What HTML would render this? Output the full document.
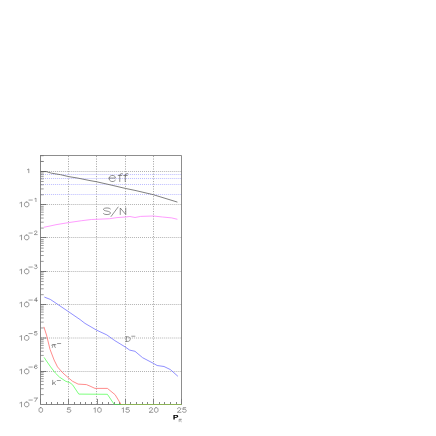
<!DOCTYPE html><html><head><meta charset="utf-8"><style>html,body{margin:0;padding:0;background:#fff;}body{width:436px;height:436px;position:relative;overflow:hidden;font-family:"Liberation Sans",sans-serif;}svg text{font-family:"Liberation Sans",sans-serif;}</style></head><body>
<svg width="436" height="436" viewBox="0 0 436 436" style="position:absolute;left:0;top:0">
<line x1="41.0" y1="171.50" x2="181.5" y2="171.50" stroke="#b2b2b2" stroke-width="1" stroke-dasharray="1 1.02"/>
<line x1="41.0" y1="204.50" x2="181.5" y2="204.50" stroke="#b2b2b2" stroke-width="1" stroke-dasharray="1 1.02"/>
<line x1="41.0" y1="237.50" x2="181.5" y2="237.50" stroke="#b2b2b2" stroke-width="1" stroke-dasharray="1 1.02"/>
<line x1="41.0" y1="271.50" x2="181.5" y2="271.50" stroke="#b2b2b2" stroke-width="1" stroke-dasharray="1 1.02"/>
<line x1="41.0" y1="304.50" x2="181.5" y2="304.50" stroke="#b2b2b2" stroke-width="1" stroke-dasharray="1 1.02"/>
<line x1="41.0" y1="338.00" x2="181.5" y2="338.00" stroke="#b2b2b2" stroke-width="1" stroke-dasharray="1 1.02"/>
<line x1="41.0" y1="371.50" x2="181.5" y2="371.50" stroke="#b2b2b2" stroke-width="1" stroke-dasharray="1 1.02"/>
<line x1="68.50" y1="156.0" x2="68.50" y2="404.5" stroke="#a8a8a8" stroke-width="1" stroke-dasharray="1.1 1.4"/>
<line x1="96.50" y1="156.0" x2="96.50" y2="404.5" stroke="#a8a8a8" stroke-width="1" stroke-dasharray="1.1 1.4"/>
<line x1="125.50" y1="156.0" x2="125.50" y2="404.5" stroke="#a8a8a8" stroke-width="1" stroke-dasharray="1.1 1.4"/>
<line x1="153.50" y1="156.0" x2="153.50" y2="404.5" stroke="#a8a8a8" stroke-width="1" stroke-dasharray="1.1 1.4"/>
<line x1="41.0" y1="174.50" x2="181.5" y2="174.50" stroke="#bcbcff" stroke-width="1" stroke-dasharray="1 1.02"/>
<line x1="41.0" y1="178.50" x2="181.5" y2="178.50" stroke="#bcbcff" stroke-width="1" stroke-dasharray="1 1.02"/>
<line x1="41.0" y1="184.50" x2="181.5" y2="184.50" stroke="#bcbcff" stroke-width="1" stroke-dasharray="1 1.02"/>
<line x1="41.0" y1="194.50" x2="181.5" y2="194.50" stroke="#bcbcff" stroke-width="1" stroke-dasharray="1 1.02"/>
<polyline points="40.5,155.5 181.5,155.5 181.5,404.5" fill="none" stroke="#707070" stroke-width="0.8"/>
<polyline points="40.5,155.1 40.5,404.5 181.5,404.5" fill="none" stroke="#686868" stroke-width="0.8"/>
<line x1="40.5" y1="171.50" x2="46.5" y2="171.50" stroke="#606060" stroke-width="0.8"/>
<line x1="40.5" y1="161.48" x2="43.7" y2="161.48" stroke="#787878" stroke-width="0.75"/>
<line x1="40.5" y1="155.61" x2="43.7" y2="155.61" stroke="#787878" stroke-width="0.75"/>
<line x1="40.5" y1="204.50" x2="46.5" y2="204.50" stroke="#606060" stroke-width="0.8"/>
<line x1="40.5" y1="194.78" x2="43.7" y2="194.78" stroke="#787878" stroke-width="0.75"/>
<line x1="40.5" y1="188.91" x2="43.7" y2="188.91" stroke="#787878" stroke-width="0.75"/>
<line x1="40.5" y1="184.75" x2="43.7" y2="184.75" stroke="#787878" stroke-width="0.75"/>
<line x1="40.5" y1="181.52" x2="43.7" y2="181.52" stroke="#787878" stroke-width="0.75"/>
<line x1="40.5" y1="178.89" x2="43.7" y2="178.89" stroke="#787878" stroke-width="0.75"/>
<line x1="40.5" y1="176.66" x2="43.7" y2="176.66" stroke="#787878" stroke-width="0.75"/>
<line x1="40.5" y1="174.73" x2="43.7" y2="174.73" stroke="#787878" stroke-width="0.75"/>
<line x1="40.5" y1="173.02" x2="43.7" y2="173.02" stroke="#787878" stroke-width="0.75"/>
<line x1="40.5" y1="237.50" x2="46.5" y2="237.50" stroke="#606060" stroke-width="0.8"/>
<line x1="40.5" y1="228.08" x2="43.7" y2="228.08" stroke="#787878" stroke-width="0.75"/>
<line x1="40.5" y1="222.21" x2="43.7" y2="222.21" stroke="#787878" stroke-width="0.75"/>
<line x1="40.5" y1="218.05" x2="43.7" y2="218.05" stroke="#787878" stroke-width="0.75"/>
<line x1="40.5" y1="214.82" x2="43.7" y2="214.82" stroke="#787878" stroke-width="0.75"/>
<line x1="40.5" y1="212.19" x2="43.7" y2="212.19" stroke="#787878" stroke-width="0.75"/>
<line x1="40.5" y1="209.96" x2="43.7" y2="209.96" stroke="#787878" stroke-width="0.75"/>
<line x1="40.5" y1="208.03" x2="43.7" y2="208.03" stroke="#787878" stroke-width="0.75"/>
<line x1="40.5" y1="206.32" x2="43.7" y2="206.32" stroke="#787878" stroke-width="0.75"/>
<line x1="40.5" y1="271.50" x2="46.5" y2="271.50" stroke="#606060" stroke-width="0.8"/>
<line x1="40.5" y1="261.38" x2="43.7" y2="261.38" stroke="#787878" stroke-width="0.75"/>
<line x1="40.5" y1="255.51" x2="43.7" y2="255.51" stroke="#787878" stroke-width="0.75"/>
<line x1="40.5" y1="251.35" x2="43.7" y2="251.35" stroke="#787878" stroke-width="0.75"/>
<line x1="40.5" y1="248.12" x2="43.7" y2="248.12" stroke="#787878" stroke-width="0.75"/>
<line x1="40.5" y1="245.49" x2="43.7" y2="245.49" stroke="#787878" stroke-width="0.75"/>
<line x1="40.5" y1="243.26" x2="43.7" y2="243.26" stroke="#787878" stroke-width="0.75"/>
<line x1="40.5" y1="241.33" x2="43.7" y2="241.33" stroke="#787878" stroke-width="0.75"/>
<line x1="40.5" y1="239.62" x2="43.7" y2="239.62" stroke="#787878" stroke-width="0.75"/>
<line x1="40.5" y1="304.50" x2="46.5" y2="304.50" stroke="#606060" stroke-width="0.8"/>
<line x1="40.5" y1="294.68" x2="43.7" y2="294.68" stroke="#787878" stroke-width="0.75"/>
<line x1="40.5" y1="288.81" x2="43.7" y2="288.81" stroke="#787878" stroke-width="0.75"/>
<line x1="40.5" y1="284.65" x2="43.7" y2="284.65" stroke="#787878" stroke-width="0.75"/>
<line x1="40.5" y1="281.42" x2="43.7" y2="281.42" stroke="#787878" stroke-width="0.75"/>
<line x1="40.5" y1="278.79" x2="43.7" y2="278.79" stroke="#787878" stroke-width="0.75"/>
<line x1="40.5" y1="276.56" x2="43.7" y2="276.56" stroke="#787878" stroke-width="0.75"/>
<line x1="40.5" y1="274.63" x2="43.7" y2="274.63" stroke="#787878" stroke-width="0.75"/>
<line x1="40.5" y1="272.92" x2="43.7" y2="272.92" stroke="#787878" stroke-width="0.75"/>
<line x1="40.5" y1="338.00" x2="46.5" y2="338.00" stroke="#606060" stroke-width="0.8"/>
<line x1="40.5" y1="327.98" x2="43.7" y2="327.98" stroke="#787878" stroke-width="0.75"/>
<line x1="40.5" y1="322.11" x2="43.7" y2="322.11" stroke="#787878" stroke-width="0.75"/>
<line x1="40.5" y1="317.95" x2="43.7" y2="317.95" stroke="#787878" stroke-width="0.75"/>
<line x1="40.5" y1="314.72" x2="43.7" y2="314.72" stroke="#787878" stroke-width="0.75"/>
<line x1="40.5" y1="312.09" x2="43.7" y2="312.09" stroke="#787878" stroke-width="0.75"/>
<line x1="40.5" y1="309.86" x2="43.7" y2="309.86" stroke="#787878" stroke-width="0.75"/>
<line x1="40.5" y1="307.93" x2="43.7" y2="307.93" stroke="#787878" stroke-width="0.75"/>
<line x1="40.5" y1="306.22" x2="43.7" y2="306.22" stroke="#787878" stroke-width="0.75"/>
<line x1="40.5" y1="371.50" x2="46.5" y2="371.50" stroke="#606060" stroke-width="0.8"/>
<line x1="40.5" y1="361.28" x2="43.7" y2="361.28" stroke="#787878" stroke-width="0.75"/>
<line x1="40.5" y1="355.41" x2="43.7" y2="355.41" stroke="#787878" stroke-width="0.75"/>
<line x1="40.5" y1="351.25" x2="43.7" y2="351.25" stroke="#787878" stroke-width="0.75"/>
<line x1="40.5" y1="348.02" x2="43.7" y2="348.02" stroke="#787878" stroke-width="0.75"/>
<line x1="40.5" y1="345.39" x2="43.7" y2="345.39" stroke="#787878" stroke-width="0.75"/>
<line x1="40.5" y1="343.16" x2="43.7" y2="343.16" stroke="#787878" stroke-width="0.75"/>
<line x1="40.5" y1="341.23" x2="43.7" y2="341.23" stroke="#787878" stroke-width="0.75"/>
<line x1="40.5" y1="339.52" x2="43.7" y2="339.52" stroke="#787878" stroke-width="0.75"/>
<line x1="40.5" y1="394.58" x2="43.7" y2="394.58" stroke="#787878" stroke-width="0.75"/>
<line x1="40.5" y1="388.71" x2="43.7" y2="388.71" stroke="#787878" stroke-width="0.75"/>
<line x1="40.5" y1="384.55" x2="43.7" y2="384.55" stroke="#787878" stroke-width="0.75"/>
<line x1="40.5" y1="381.32" x2="43.7" y2="381.32" stroke="#787878" stroke-width="0.75"/>
<line x1="40.5" y1="378.69" x2="43.7" y2="378.69" stroke="#787878" stroke-width="0.75"/>
<line x1="40.5" y1="376.46" x2="43.7" y2="376.46" stroke="#787878" stroke-width="0.75"/>
<line x1="40.5" y1="374.53" x2="43.7" y2="374.53" stroke="#787878" stroke-width="0.75"/>
<line x1="40.5" y1="372.82" x2="43.7" y2="372.82" stroke="#787878" stroke-width="0.75"/>
<line x1="40.5" y1="161.48" x2="43.7" y2="161.48" stroke="#787878" stroke-width="0.75"/>
<line x1="40.5" y1="155.61" x2="43.7" y2="155.61" stroke="#787878" stroke-width="0.75"/>
<line x1="40.50" y1="404.5" x2="40.50" y2="398.9" stroke="#777" stroke-width="0.9"/>
<line x1="46.50" y1="404.5" x2="46.50" y2="402.0" stroke="#777" stroke-width="0.9"/>
<line x1="51.50" y1="404.5" x2="51.50" y2="402.0" stroke="#777" stroke-width="0.9"/>
<line x1="57.50" y1="404.5" x2="57.50" y2="402.0" stroke="#777" stroke-width="0.9"/>
<line x1="63.50" y1="404.5" x2="63.50" y2="402.0" stroke="#777" stroke-width="0.9"/>
<line x1="68.50" y1="404.5" x2="68.50" y2="398.9" stroke="#777" stroke-width="0.9"/>
<line x1="74.50" y1="404.5" x2="74.50" y2="402.0" stroke="#777" stroke-width="0.9"/>
<line x1="80.50" y1="404.5" x2="80.50" y2="402.0" stroke="#777" stroke-width="0.9"/>
<line x1="85.50" y1="404.5" x2="85.50" y2="402.0" stroke="#777" stroke-width="0.9"/>
<line x1="91.50" y1="404.5" x2="91.50" y2="402.0" stroke="#777" stroke-width="0.9"/>
<line x1="97.50" y1="404.5" x2="97.50" y2="398.9" stroke="#777" stroke-width="0.9"/>
<line x1="102.50" y1="404.5" x2="102.50" y2="402.0" stroke="#777" stroke-width="0.9"/>
<line x1="108.50" y1="404.5" x2="108.50" y2="402.0" stroke="#777" stroke-width="0.9"/>
<line x1="114.50" y1="404.5" x2="114.50" y2="402.0" stroke="#777" stroke-width="0.9"/>
<line x1="119.50" y1="404.5" x2="119.50" y2="402.0" stroke="#777" stroke-width="0.9"/>
<line x1="125.50" y1="404.5" x2="125.50" y2="398.9" stroke="#777" stroke-width="0.9"/>
<line x1="130.50" y1="404.5" x2="130.50" y2="402.0" stroke="#777" stroke-width="0.9"/>
<line x1="136.50" y1="404.5" x2="136.50" y2="402.0" stroke="#777" stroke-width="0.9"/>
<line x1="142.50" y1="404.5" x2="142.50" y2="402.0" stroke="#777" stroke-width="0.9"/>
<line x1="147.50" y1="404.5" x2="147.50" y2="402.0" stroke="#777" stroke-width="0.9"/>
<line x1="153.50" y1="404.5" x2="153.50" y2="398.9" stroke="#777" stroke-width="0.9"/>
<line x1="159.50" y1="404.5" x2="159.50" y2="402.0" stroke="#777" stroke-width="0.9"/>
<line x1="164.50" y1="404.5" x2="164.50" y2="402.0" stroke="#777" stroke-width="0.9"/>
<line x1="170.50" y1="404.5" x2="170.50" y2="402.0" stroke="#777" stroke-width="0.9"/>
<line x1="176.50" y1="404.5" x2="176.50" y2="402.0" stroke="#777" stroke-width="0.9"/>
<line x1="181.50" y1="404.5" x2="181.50" y2="398.9" stroke="#777" stroke-width="0.9"/>
<polyline points="40.5,171.6 46.3,171.6 51.5,173.2 60.6,174.7 68.7,176.6 77.8,178.1 90.0,180.6 96.3,181.7 110.0,184.8 125.3,188.4 135.0,190.4 153.3,194.7 177.4,202.1" fill="none" stroke="#606060" stroke-width="0.8" stroke-linejoin="round"/>
<polyline points="43.7,227.3 50.0,226.0 56.0,224.7 68.6,222.6 81.7,220.7 91.4,219.5 101.0,219.1 109.7,218.7 117.0,217.6 125.3,217.0 129.9,216.5 135.0,217.5 140.7,216.4 153.3,216.0 162.5,217.0 171.7,217.9 177.4,219.3" fill="none" stroke="#ff7cff" stroke-width="0.75" stroke-linejoin="round"/>
<polyline points="44.4,297.1 50.3,299.4 57.2,304.0 68.7,311.8 80.1,319.6 85.0,323.4 96.5,330.1 106.8,334.9 114.8,340.6 125.1,346.9 129.7,350.1 135.0,351.3 142.6,357.7 153.3,363.3 157.1,365.5 164.0,366.5 170.4,369.6 177.9,376.3" fill="none" stroke="#7474ff" stroke-width="0.8" stroke-linejoin="round"/>
<polyline points="43.9,326.9 46.5,335.0 50.0,349.3 54.1,360.0 57.5,366.9 63.0,373.1 68.5,377.9 72.6,381.3 78.1,384.1 86.4,384.6 90.0,386.1 95.0,388.4 107.4,388.4 115.1,394.7 121.1,404.5" fill="none" stroke="#ff6e6e" stroke-width="0.8" stroke-linejoin="round"/>
<polyline points="44.1,357.4 45.8,360.0 50.6,366.9 55.4,373.1 59.6,377.2 65.8,381.3 69.9,382.7 72.6,384.8 78.8,394.1 107.4,394.3 114.3,404.5" fill="none" stroke="#5cff5c" stroke-width="0.8" stroke-linejoin="round"/>
<line x1="121.1" y1="404.5" x2="181.5" y2="404.5" stroke="#8cb850" stroke-width="0.9"/>
<line x1="114.3" y1="404.5" x2="121.1" y2="404.5" stroke="#55c555" stroke-width="0.9"/>
<path d="M27.52,169.62 L28.03,169.44 L28.79,168.90 L28.79,172.70" fill="none" stroke="#555" stroke-width="0.6" stroke-linecap="round" stroke-linejoin="round"/>
<path d="M19.93,202.95 L20.57,202.73 L21.53,202.05 L21.53,206.80 M26.35,202.05 L25.39,202.28 L24.75,202.95 L24.42,204.09 L24.42,204.76 L24.75,205.90 L25.39,206.57 L26.35,206.80 L26.99,206.80 L27.96,206.57 L28.60,205.90 L28.92,204.76 L28.92,204.09 L28.60,202.95 L27.96,202.28 L26.99,202.05 L26.35,202.05" fill="none" stroke="#555" stroke-width="0.6" stroke-linecap="round" stroke-linejoin="round"/>
<path d="M28.95,200.06 L32.35,200.06" fill="none" stroke="#555" stroke-width="0.55" stroke-linecap="round" stroke-linejoin="round"/>
<path d="M34.89,198.69 L35.32,198.51 L35.96,198.00 L35.96,201.60" fill="none" stroke="#555" stroke-width="0.55" stroke-linecap="round" stroke-linejoin="round"/>
<path d="M19.93,235.95 L20.57,235.73 L21.53,235.05 L21.53,239.80 M26.35,235.05 L25.39,235.28 L24.75,235.95 L24.42,237.09 L24.42,237.76 L24.75,238.90 L25.39,239.57 L26.35,239.80 L26.99,239.80 L27.96,239.57 L28.60,238.90 L28.92,237.76 L28.92,237.09 L28.60,235.95 L27.96,235.28 L26.99,235.05 L26.35,235.05" fill="none" stroke="#555" stroke-width="0.6" stroke-linecap="round" stroke-linejoin="round"/>
<path d="M28.95,233.06 L32.35,233.06" fill="none" stroke="#555" stroke-width="0.55" stroke-linecap="round" stroke-linejoin="round"/>
<path d="M34.46,231.86 L34.46,231.69 L34.67,231.34 L34.89,231.17 L35.32,231.00 L36.17,231.00 L36.60,231.17 L36.82,231.34 L37.03,231.69 L37.03,232.03 L36.82,232.37 L36.39,232.89 L34.25,234.60 L37.25,234.60" fill="none" stroke="#555" stroke-width="0.55" stroke-linecap="round" stroke-linejoin="round"/>
<path d="M19.93,269.95 L20.57,269.73 L21.53,269.05 L21.53,273.80 M26.35,269.05 L25.39,269.28 L24.75,269.95 L24.42,271.09 L24.42,271.76 L24.75,272.90 L25.39,273.57 L26.35,273.80 L26.99,273.80 L27.96,273.57 L28.60,272.90 L28.92,271.76 L28.92,271.09 L28.60,269.95 L27.96,269.28 L26.99,269.05 L26.35,269.05" fill="none" stroke="#555" stroke-width="0.6" stroke-linecap="round" stroke-linejoin="round"/>
<path d="M28.95,267.06 L32.35,267.06" fill="none" stroke="#555" stroke-width="0.55" stroke-linecap="round" stroke-linejoin="round"/>
<path d="M34.67,265.00 L37.03,265.00 L35.75,266.37 L36.39,266.37 L36.82,266.54 L37.03,266.71 L37.25,267.23 L37.25,267.57 L37.03,268.09 L36.60,268.43 L35.96,268.60 L35.32,268.60 L34.67,268.43 L34.46,268.26 L34.25,267.91" fill="none" stroke="#555" stroke-width="0.55" stroke-linecap="round" stroke-linejoin="round"/>
<path d="M19.93,302.95 L20.57,302.73 L21.53,302.05 L21.53,306.80 M26.35,302.05 L25.39,302.28 L24.75,302.95 L24.42,304.09 L24.42,304.76 L24.75,305.90 L25.39,306.57 L26.35,306.80 L26.99,306.80 L27.96,306.57 L28.60,305.90 L28.92,304.76 L28.92,304.09 L28.60,302.95 L27.96,302.28 L26.99,302.05 L26.35,302.05" fill="none" stroke="#555" stroke-width="0.6" stroke-linecap="round" stroke-linejoin="round"/>
<path d="M28.95,300.06 L32.35,300.06" fill="none" stroke="#555" stroke-width="0.55" stroke-linecap="round" stroke-linejoin="round"/>
<path d="M36.39,298.00 L34.25,300.40 L37.46,300.40 M36.39,298.00 L36.39,301.60" fill="none" stroke="#555" stroke-width="0.55" stroke-linecap="round" stroke-linejoin="round"/>
<path d="M19.93,336.45 L20.57,336.23 L21.53,335.55 L21.53,340.30 M26.35,335.55 L25.39,335.78 L24.75,336.45 L24.42,337.59 L24.42,338.26 L24.75,339.40 L25.39,340.07 L26.35,340.30 L26.99,340.30 L27.96,340.07 L28.60,339.40 L28.92,338.26 L28.92,337.59 L28.60,336.45 L27.96,335.78 L26.99,335.55 L26.35,335.55" fill="none" stroke="#555" stroke-width="0.6" stroke-linecap="round" stroke-linejoin="round"/>
<path d="M28.95,333.56 L32.35,333.56" fill="none" stroke="#555" stroke-width="0.55" stroke-linecap="round" stroke-linejoin="round"/>
<path d="M36.82,331.50 L34.67,331.50 L34.46,333.04 L34.67,332.87 L35.32,332.70 L35.96,332.70 L36.60,332.87 L37.03,333.21 L37.25,333.73 L37.25,334.07 L37.03,334.59 L36.60,334.93 L35.96,335.10 L35.32,335.10 L34.67,334.93 L34.46,334.76 L34.25,334.41" fill="none" stroke="#555" stroke-width="0.55" stroke-linecap="round" stroke-linejoin="round"/>
<path d="M19.93,369.95 L20.57,369.73 L21.53,369.05 L21.53,373.80 M26.35,369.05 L25.39,369.28 L24.75,369.95 L24.42,371.09 L24.42,371.76 L24.75,372.90 L25.39,373.57 L26.35,373.80 L26.99,373.80 L27.96,373.57 L28.60,372.90 L28.92,371.76 L28.92,371.09 L28.60,369.95 L27.96,369.28 L26.99,369.05 L26.35,369.05" fill="none" stroke="#555" stroke-width="0.6" stroke-linecap="round" stroke-linejoin="round"/>
<path d="M28.95,367.06 L32.35,367.06" fill="none" stroke="#555" stroke-width="0.55" stroke-linecap="round" stroke-linejoin="round"/>
<path d="M37.03,365.51 L36.82,365.17 L36.17,365.00 L35.75,365.00 L35.10,365.17 L34.67,365.69 L34.46,366.54 L34.46,367.40 L34.67,368.09 L35.10,368.43 L35.75,368.60 L35.96,368.60 L36.60,368.43 L37.03,368.09 L37.25,367.57 L37.25,367.40 L37.03,366.89 L36.60,366.54 L35.96,366.37 L35.75,366.37 L35.10,366.54 L34.67,366.89 L34.46,367.40" fill="none" stroke="#555" stroke-width="0.55" stroke-linecap="round" stroke-linejoin="round"/>
<path d="M19.93,402.95 L20.57,402.73 L21.53,402.05 L21.53,406.80 M26.35,402.05 L25.39,402.28 L24.75,402.95 L24.42,404.09 L24.42,404.76 L24.75,405.90 L25.39,406.57 L26.35,406.80 L26.99,406.80 L27.96,406.57 L28.60,405.90 L28.92,404.76 L28.92,404.09 L28.60,402.95 L27.96,402.28 L26.99,402.05 L26.35,402.05" fill="none" stroke="#555" stroke-width="0.6" stroke-linecap="round" stroke-linejoin="round"/>
<path d="M28.95,400.06 L32.35,400.06" fill="none" stroke="#555" stroke-width="0.55" stroke-linecap="round" stroke-linejoin="round"/>
<path d="M37.25,398.00 L35.10,401.60 M34.25,398.00 L37.25,398.00" fill="none" stroke="#555" stroke-width="0.55" stroke-linecap="round" stroke-linejoin="round"/>
<path d="M40.54,407.70 L39.75,407.92 L39.22,408.58 L38.96,409.67 L38.96,410.33 L39.22,411.42 L39.75,412.08 L40.54,412.30 L41.06,412.30 L41.85,412.08 L42.38,411.42 L42.64,410.33 L42.64,409.67 L42.38,408.58 L41.85,407.92 L41.06,407.70 L40.54,407.70" fill="none" stroke="#555" stroke-width="0.6" stroke-linecap="round" stroke-linejoin="round"/>
<path d="M70.31,407.70 L67.69,407.70 L67.42,409.67 L67.69,409.45 L68.47,409.23 L69.26,409.23 L70.05,409.45 L70.58,409.89 L70.84,410.55 L70.84,410.99 L70.58,411.64 L70.05,412.08 L69.26,412.30 L68.47,412.30 L67.69,412.08 L67.42,411.86 L67.16,411.42" fill="none" stroke="#555" stroke-width="0.6" stroke-linecap="round" stroke-linejoin="round"/>
<path d="M93.91,408.58 L94.44,408.36 L95.23,407.70 L95.23,412.30 M99.17,407.70 L98.38,407.92 L97.86,408.58 L97.59,409.67 L97.59,410.33 L97.86,411.42 L98.38,412.08 L99.17,412.30 L99.70,412.30 L100.49,412.08 L101.01,411.42 L101.27,410.33 L101.27,409.67 L101.01,408.58 L100.49,407.92 L99.70,407.70 L99.17,407.70" fill="none" stroke="#555" stroke-width="0.6" stroke-linecap="round" stroke-linejoin="round"/>
<path d="M122.11,408.58 L122.64,408.36 L123.43,407.70 L123.43,412.30 M128.95,407.70 L126.32,407.70 L126.06,409.67 L126.32,409.45 L127.11,409.23 L127.90,409.23 L128.69,409.45 L129.21,409.89 L129.47,410.55 L129.47,410.99 L129.21,411.64 L128.69,412.08 L127.90,412.30 L127.11,412.30 L126.32,412.08 L126.06,411.86 L125.79,411.42" fill="none" stroke="#555" stroke-width="0.6" stroke-linecap="round" stroke-linejoin="round"/>
<path d="M149.39,408.80 L149.39,408.58 L149.66,408.14 L149.92,407.92 L150.45,407.70 L151.50,407.70 L152.02,407.92 L152.29,408.14 L152.55,408.58 L152.55,409.01 L152.29,409.45 L151.76,410.11 L149.13,412.30 L152.81,412.30 M155.97,407.70 L155.18,407.92 L154.65,408.58 L154.39,409.67 L154.39,410.33 L154.65,411.42 L155.18,412.08 L155.97,412.30 L156.49,412.30 L157.28,412.08 L157.81,411.42 L158.07,410.33 L158.07,409.67 L157.81,408.58 L157.28,407.92 L156.49,407.70 L155.97,407.70" fill="none" stroke="#555" stroke-width="0.6" stroke-linecap="round" stroke-linejoin="round"/>
<path d="M177.59,408.80 L177.59,408.58 L177.86,408.14 L178.12,407.92 L178.65,407.70 L179.70,407.70 L180.22,407.92 L180.49,408.14 L180.75,408.58 L180.75,409.01 L180.49,409.45 L179.96,410.11 L177.33,412.30 L181.01,412.30 M185.74,407.70 L183.11,407.70 L182.85,409.67 L183.11,409.45 L183.90,409.23 L184.69,409.23 L185.48,409.45 L186.01,409.89 L186.27,410.55 L186.27,410.99 L186.01,411.64 L185.48,412.08 L184.69,412.30 L183.90,412.30 L183.11,412.08 L182.85,411.86 L182.59,411.42" fill="none" stroke="#555" stroke-width="0.6" stroke-linecap="round" stroke-linejoin="round"/>
<path d="M109.11,178.07 L115.31,178.07 L115.31,177.21 L114.79,176.36 L114.27,175.93 L113.24,175.50 L111.69,175.50 L110.66,175.93 L109.63,176.79 L109.11,178.07 L109.11,178.93 L109.63,180.21 L110.66,181.07 L111.69,181.50 L113.24,181.50 L114.27,181.07 L115.31,180.21 M122.33,173.66 L121.30,173.66 L120.26,174.09 L119.75,175.16 L119.75,181.50 M118.20,175.50 L121.81,175.50 M127.80,173.66 L126.77,173.66 L125.74,174.09 L125.22,175.16 L125.22,181.50 M123.67,175.50 L127.29,175.50" fill="none" stroke="#555" stroke-width="0.65" stroke-linecap="round" stroke-linejoin="round"/>
<path d="M110.31,208.93 L109.34,208.31 L107.89,208.00 L105.96,208.00 L104.51,208.31 L103.55,208.93 L103.55,209.55 L104.03,210.17 L104.51,210.48 L105.48,210.79 L108.38,211.40 L109.34,211.71 L109.83,212.02 L110.31,212.64 L110.31,213.57 L109.34,214.19 L107.89,214.50 L105.96,214.50 L104.51,214.19 L103.55,213.57 M118.08,207.07 L111.08,216.45 M120.26,214.50 L120.26,208.00 L125.76,214.50 L125.76,208.00" fill="none" stroke="#555" stroke-width="0.65" stroke-linecap="round" stroke-linejoin="round"/>
<path d="M126.30,336.80 L126.30,341.40 M126.30,336.80 L128.21,336.80 L129.03,337.02 L129.58,337.46 L129.85,337.90 L130.13,338.55 L130.13,339.65 L129.85,340.30 L129.58,340.74 L129.03,341.18 L128.21,341.40 L126.30,341.40" fill="none" stroke="#555" stroke-width="0.6" stroke-linecap="round" stroke-linejoin="round"/>
<path d="M131.71,336.23 L134.89,336.23" fill="none" stroke="#555" stroke-width="0.6" stroke-linecap="round" stroke-linejoin="round"/>
<path d="M51.64,345.20 L52.14,344.80 L52.88,344.60 L55.84,344.60 M53.13,344.60 L52.63,346.20 L52.38,347.40 M54.61,344.60 L54.61,346.20 L54.85,347.20 L55.35,347.40" fill="none" stroke="#555" stroke-width="0.6" stroke-linecap="round" stroke-linejoin="round"/>
<path d="M57.51,343.53 L60.69,343.53" fill="none" stroke="#555" stroke-width="0.6" stroke-linecap="round" stroke-linejoin="round"/>
<path d="M52.66,380.30 L52.66,384.60 M55.33,381.73 L52.66,383.78 M53.73,382.96 L55.59,384.60" fill="none" stroke="#555" stroke-width="0.6" stroke-linecap="round" stroke-linejoin="round"/>
<path d="M57.21,380.53 L60.39,380.53" fill="none" stroke="#555" stroke-width="0.6" stroke-linecap="round" stroke-linejoin="round"/>
<path fill-rule="evenodd" fill="#000" d="M173.40,419.50 L173.40,414.90 L176.34,414.90 Q178.30,414.90 178.30,416.33 Q178.30,417.75 176.34,417.75 L174.72,417.75 L174.72,419.50 Z M174.72,415.73 L176.09,415.73 Q176.93,415.73 176.93,416.33 Q176.93,416.92 176.09,416.92 L174.72,416.92 Z"/>
<path d="M178.64,419.81 L178.99,419.47 L179.50,419.30 L181.56,419.30 M179.67,419.30 L179.33,420.67 L179.16,421.70 M180.70,419.30 L180.70,420.67 L180.87,421.53 L181.21,421.70" fill="none" stroke="#777" stroke-width="0.55" stroke-linecap="round" stroke-linejoin="round"/>
</svg>
</body></html>
